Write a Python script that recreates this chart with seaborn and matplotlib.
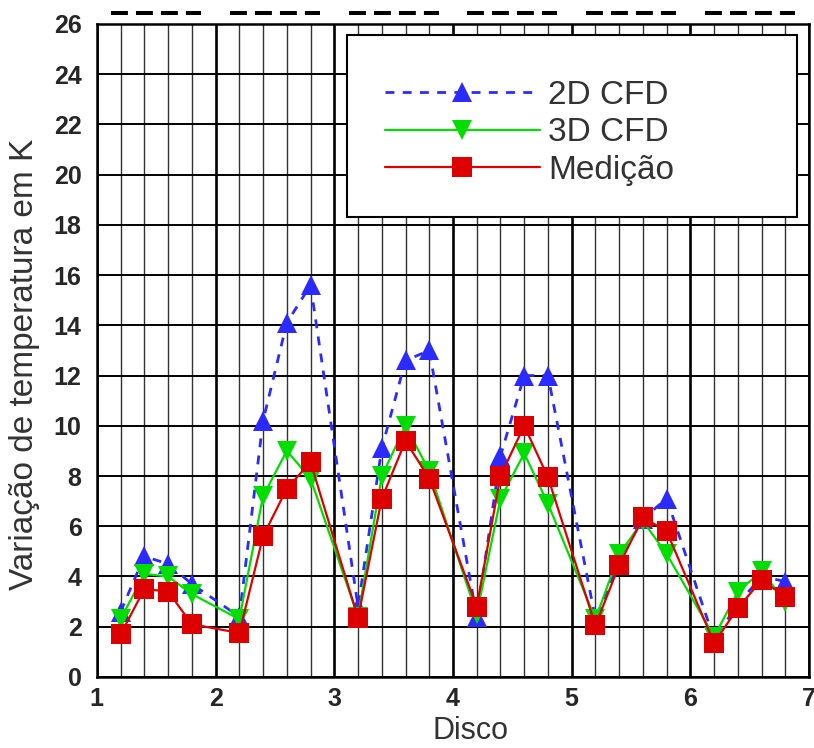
import numpy as np
import pandas as pd
import matplotlib
matplotlib.use("Agg")
import matplotlib.pyplot as plt
from matplotlib.patches import Rectangle
import seaborn as sns

# disk positions and measured / simulated temperature rise (K)
disco = [1.2, 1.4, 1.6, 1.8, 2.2, 2.4, 2.6, 2.8, 3.2, 3.4, 3.6, 3.8,
         4.2, 4.4, 4.6, 4.8, 5.2, 5.4, 5.6, 5.8, 6.2, 6.4, 6.6, 6.8]
cfd_2d = [2.6, 4.8, 4.5, 3.7, 2.4, 10.2, 14.1, 15.6, 2.8, 9.1, 12.6, 13.0,
          2.4, 8.8, 12.0, 12.0, 2.3, 4.6, 6.3, 7.1, 1.5, 2.9, 4.0, 3.8]
cfd_3d = [2.3, 4.1, 4.0, 3.3, 2.3, 7.2, 9.0, 7.9, 2.4, 8.0, 10.0, 8.2,
          2.5, 7.1, 8.9, 6.9, 2.3, 4.9, 6.2, 4.9, 1.6, 3.4, 4.2, 3.0]
medicao = [1.7, 3.5, 3.4, 2.1, 1.75, 5.6, 7.5, 8.55, 2.35, 7.1, 9.4, 7.9,
           2.8, 8.0, 10.0, 7.95, 2.05, 4.45, 6.35, 5.8, 1.35, 2.75, 3.85, 3.2]

series = ["2D CFD", "3D CFD", "Medição"]

df = pd.concat([
    pd.DataFrame({"Disco": disco, "dT": vals, "Serie": name})
    for name, vals in zip(series, [cfd_2d, cfd_3d, medicao])
], ignore_index=True)

sns.set_style("white")
plt.rcParams["font.family"] = ["Liberation Sans", "DejaVu Sans"]

fig = plt.figure(figsize=(8.14, 7.48), dpi=100)
ax = fig.add_axes([0.119, 0.095, 0.875, 0.873])

palette = {"2D CFD": "#2b2bff", "3D CFD": "#00dd00", "Medição": "#dd0000"}
markers = {"2D CFD": "^", "3D CFD": "v", "Medição": "s"}
dashes = {"2D CFD": (3.2, 3.0), "3D CFD": "", "Medição": ""}

sns.lineplot(data=df, x="Disco", y="dT", hue="Serie", style="Serie",
             palette=palette, markers=markers, dashes=dashes,
             markersize=15, markeredgewidth=0, linewidth=1.6,
             ax=ax, zorder=3)

# blue dashed line slightly thicker
for ln in ax.get_lines():
    if ln.get_color() == "#2b2bff":
        ln.set_linewidth(2.0)

ax.set_xlim(1, 7)
ax.set_ylim(0, 26)
ax.set_xticks(range(1, 8))
ax.set_yticks(range(0, 27, 2))
ax.set_xticks(np.arange(1, 7.01, 0.2), minor=True)

ax.grid(False)
ax.grid(axis="x", which="major", color="black", lw=1.9, zorder=1)
ax.grid(axis="x", which="minor", color="#333333", lw=1.0, zorder=1)
ax.grid(axis="y", which="major", color="black", lw=1.4, zorder=1)
ax.set_axisbelow(True)

for sp in ax.spines.values():
    sp.set_color("black")
    sp.set_linewidth(1.8)

ax.tick_params(axis="both", which="both", length=0)
ax.tick_params(axis="y", pad=11, labelsize=18)
ax.tick_params(axis="x", pad=7, labelsize=18)
for lab in ax.get_xticklabels() + ax.get_yticklabels():
    lab.set_fontweight("bold")

ax.set_xlabel("Disco", fontsize=22, color="#333333")
ax.set_ylabel("Variação de temperatura em K", fontsize=24, color="#333333")
ax.xaxis.set_label_coords(0.524, -0.06)
ax.yaxis.set_label_coords(-0.08, 0.478)

# dashed marks above the top frame
for i in range(1, 7):
    ax.plot([i + 0.12, i + 0.88], [26.44, 26.44], color="black", lw=2.9,
            ls=(0, (4.2, 2.0)), clip_on=False, zorder=4)

# legend box
ax.add_patch(Rectangle((0.351, 0.704), 0.632, 0.279, transform=ax.transAxes,
                       facecolor="white", edgecolor="black", lw=1.5, zorder=5))
handles, labels = ax.get_legend_handles_labels()
leg = ax.legend(handles, labels, loc="center left", bbox_to_anchor=(0.404, 0.833),
                frameon=False, fontsize=24, borderpad=0, borderaxespad=0,
                handlelength=4.65, handletextpad=0.25, labelspacing=0.2)
leg.set_zorder(6)
for t in leg.get_texts():
    t.set_color("#333333")

fig.savefig("out.png", dpi=100)
